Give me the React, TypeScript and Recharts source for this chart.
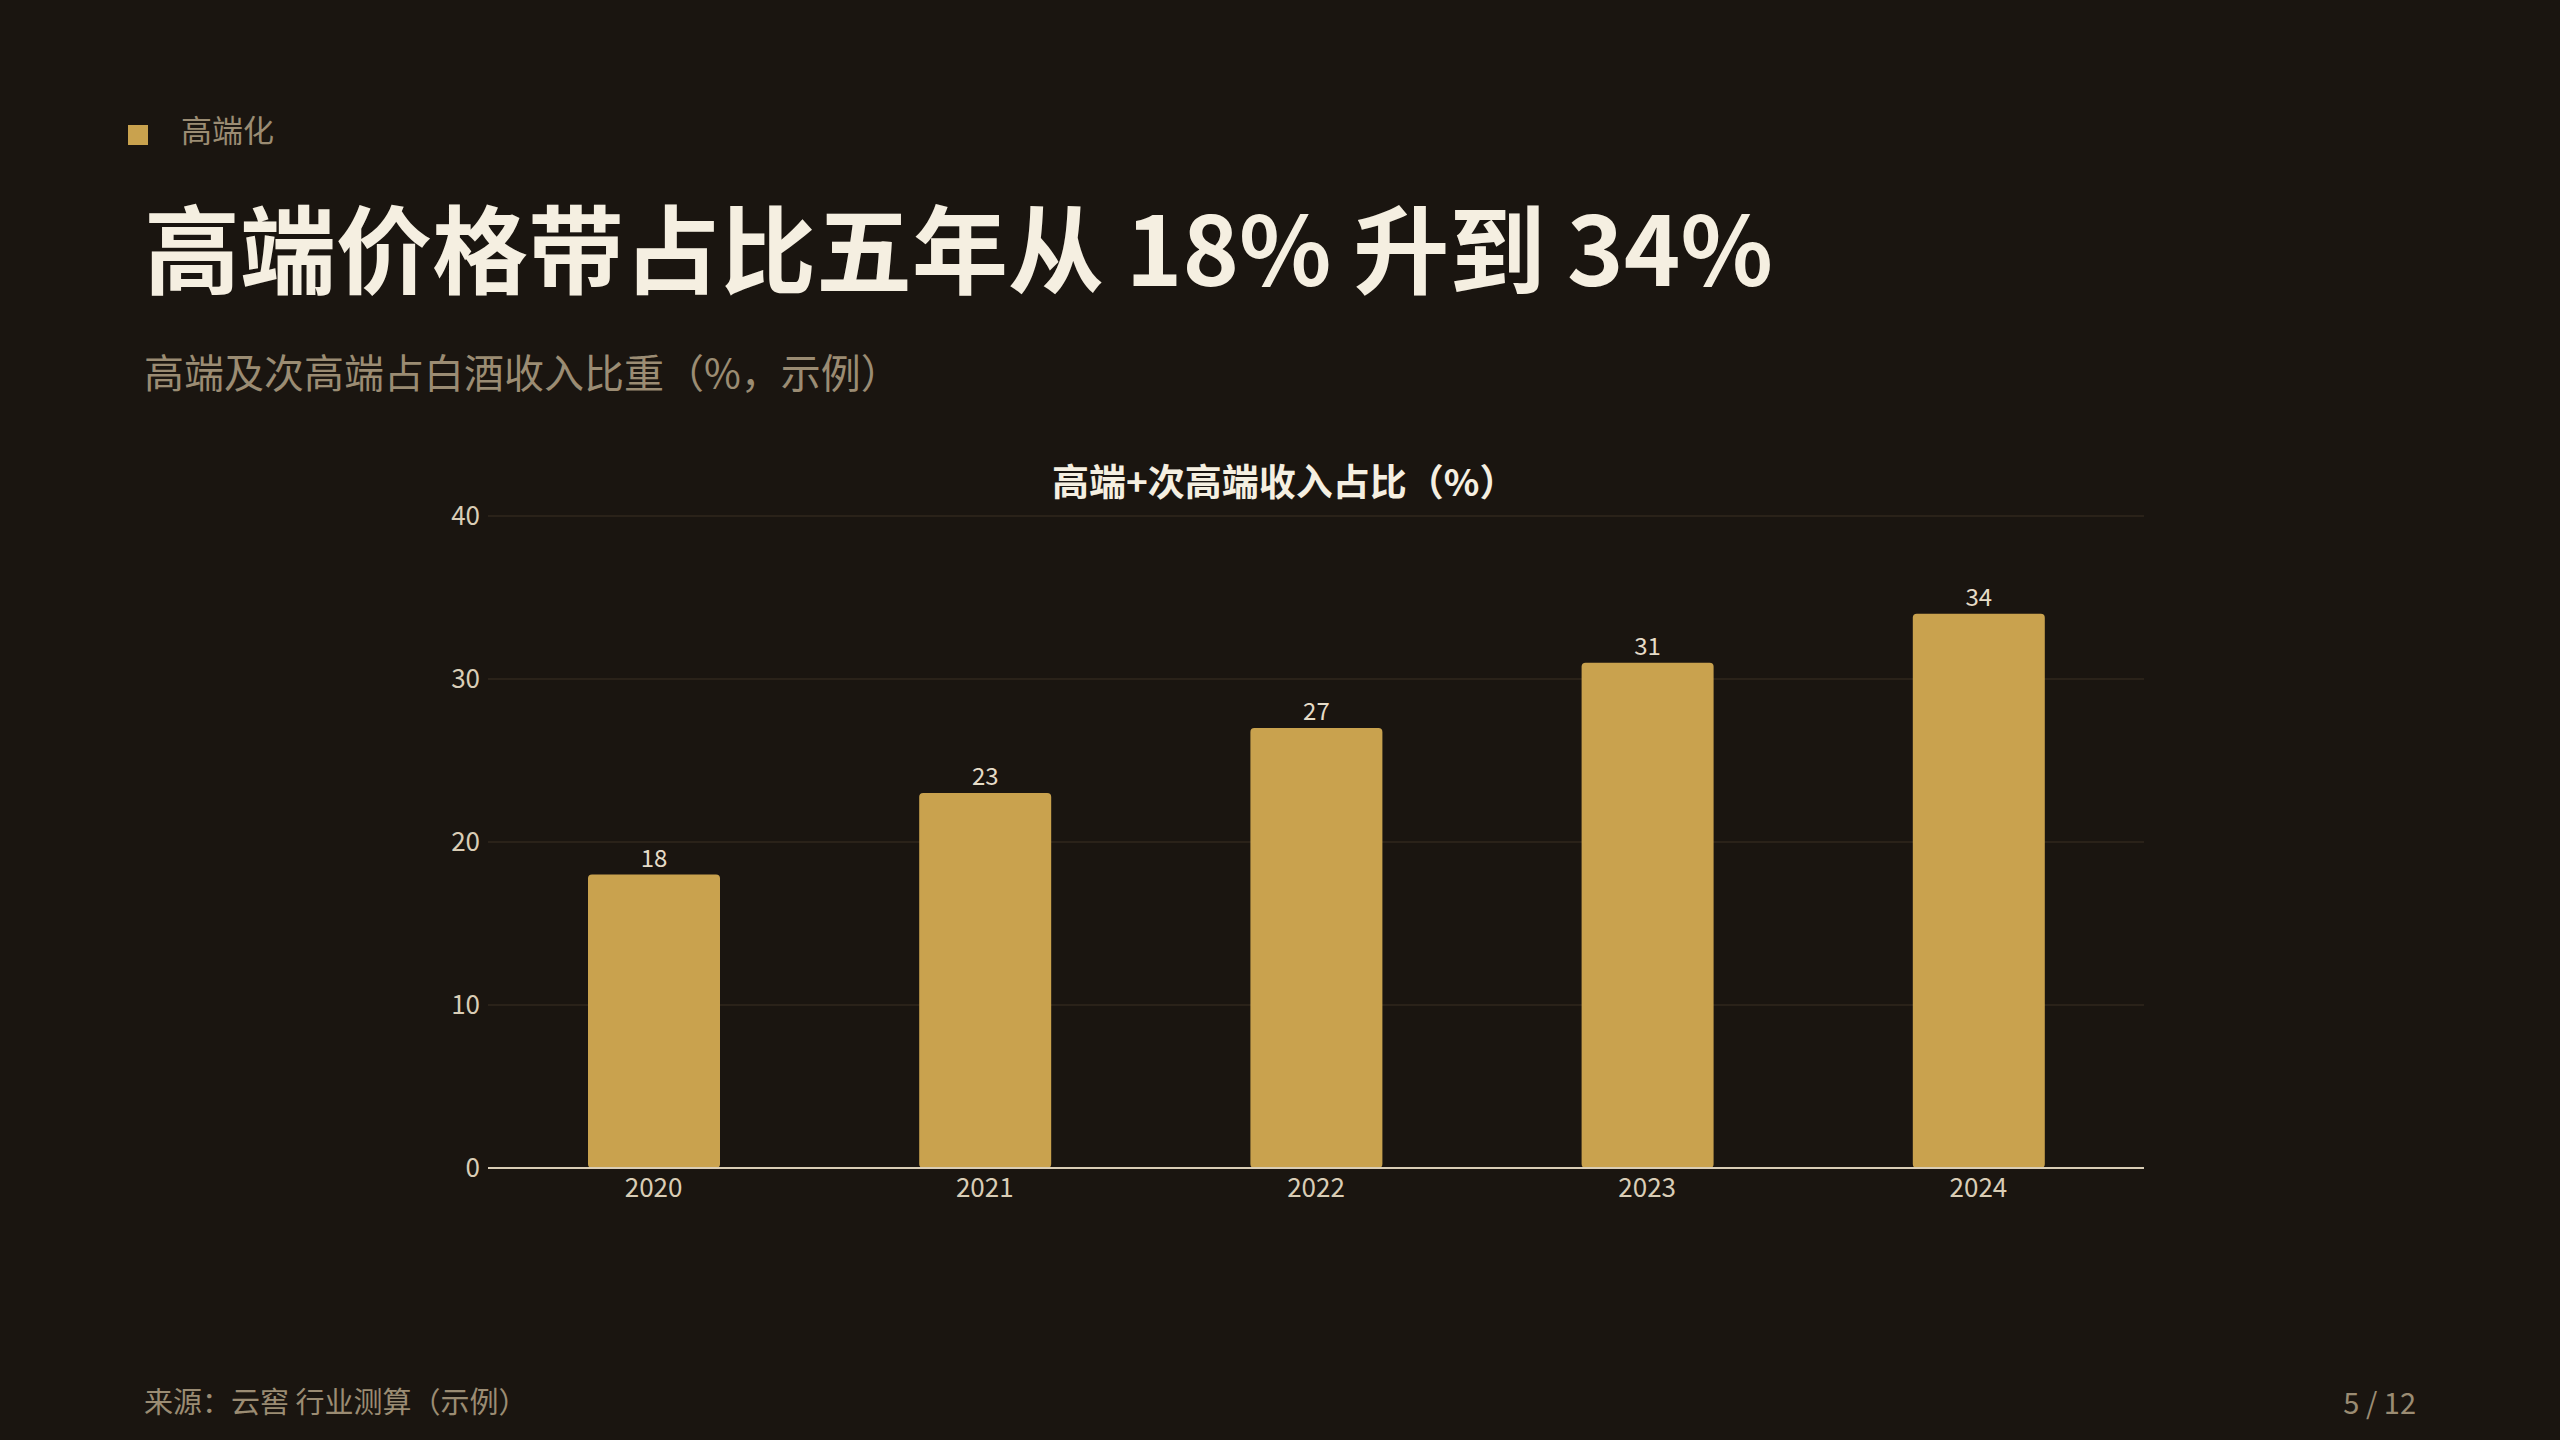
import React from "react";
import {
  BarChart,
  Bar,
  XAxis,
  YAxis,
  CartesianGrid,
  LabelList,
} from "recharts";

const years = ["2020", "2021", "2022", "2023", "2024"];
const shareValues = [18, 23, 27, 31, 34];
const yTicks = [0, 10, 20, 30, 40];

const chartData = years.map((year, i) => ({ year, share: shareValues[i] }));

const FONT = '"Noto Sans CJK SC", "Noto Sans", sans-serif';
const BG = "#1A1510";
const GOLD = "#C9A24E";
const MUTED = "#9B8C73";
const CREAM = "#F5EFE1";
const TICK = "#D9CDB6";

export default function App() {
  return (
    <div
      style={{
        position: "absolute",
        left: 0,
        top: 0,
        width: 2560,
        height: 1440,
        background: BG,
        fontFamily: FONT,
        overflow: "hidden",
      }}
    >
      {/* tag */}
      <div
        style={{
          position: "absolute",
          left: 128,
          top: 125,
          width: 20,
          height: 20,
          background: GOLD,
        }}
      />
      <div
        style={{
          position: "absolute",
          left: 181,
          top: 113,
          fontSize: 31,
          lineHeight: 1,
          color: MUTED,
        }}
      >
        高端化
      </div>

      <div
        style={{
          position: "absolute",
          left: 144,
          top: 197,
          fontSize: 96,
          lineHeight: 1,
          fontWeight: 700,
          color: CREAM,
          whiteSpace: "nowrap",
        }}
      >
        高端价格带占比五年从 18% 升到 34%
      </div>

      <div
        style={{
          position: "absolute",
          left: 144,
          top: 351,
          fontSize: 40,
          lineHeight: 1,
          color: MUTED,
          whiteSpace: "nowrap",
        }}
      >
        高端及次高端占白酒收入比重（%，示例）
      </div>

      <div
        style={{
          position: "absolute",
          left: 1052,
          width: 400,
          top: 462,
          textAlign: "center",
          fontSize: 37,
          lineHeight: 1,
          fontWeight: 700,
          color: CREAM,
          whiteSpace: "nowrap",
        }}
      >
        高端+次高端收入占比（%）
      </div>

      <div style={{ position: "absolute", left: 380, top: 480 }}>
        <BarChart
          width={1800}
          height={740}
          data={chartData}
          margin={{ top: 36, right: 36, left: 0, bottom: 12 }}
        >
          <CartesianGrid
            vertical={false}
            stroke="#2A2219"
            strokeWidth={2}
          />
          <XAxis
            dataKey="year"
            height={40}
            tickLine={false}
            tickMargin={5}
            axisLine={{ stroke: TICK, strokeWidth: 2 }}
            tick={{ fill: TICK, fontSize: 26, fontFamily: FONT }}
          />
          <YAxis
            width={108}
            domain={[0, 40]}
            ticks={yTicks}
            axisLine={false}
            tickLine={false}
            tick={{ fill: TICK, fontSize: 26, fontFamily: FONT }}
          />
          <Bar
            dataKey="share"
            fill={GOLD}
            barSize={132}
            radius={4}
            isAnimationActive={false}
          >
            <LabelList
              dataKey="share"
              position="top"
              offset={8}
              fill="#E6DCC8"
              fontSize={24}
              fontFamily={FONT}
            />
          </Bar>
        </BarChart>
      </div>

      <div
        style={{
          position: "absolute",
          left: 144,
          top: 1386,
          fontSize: 29,
          lineHeight: 1,
          color: MUTED,
          whiteSpace: "nowrap",
        }}
      >
        来源：云窖 行业测算（示例）
      </div>
      <div
        style={{
          position: "absolute",
          right: 144,
          top: 1387,
          fontSize: 29,
          lineHeight: 1,
          color: MUTED,
          whiteSpace: "nowrap",
        }}
      >
        5 / 12
      </div>
    </div>
  );
}
